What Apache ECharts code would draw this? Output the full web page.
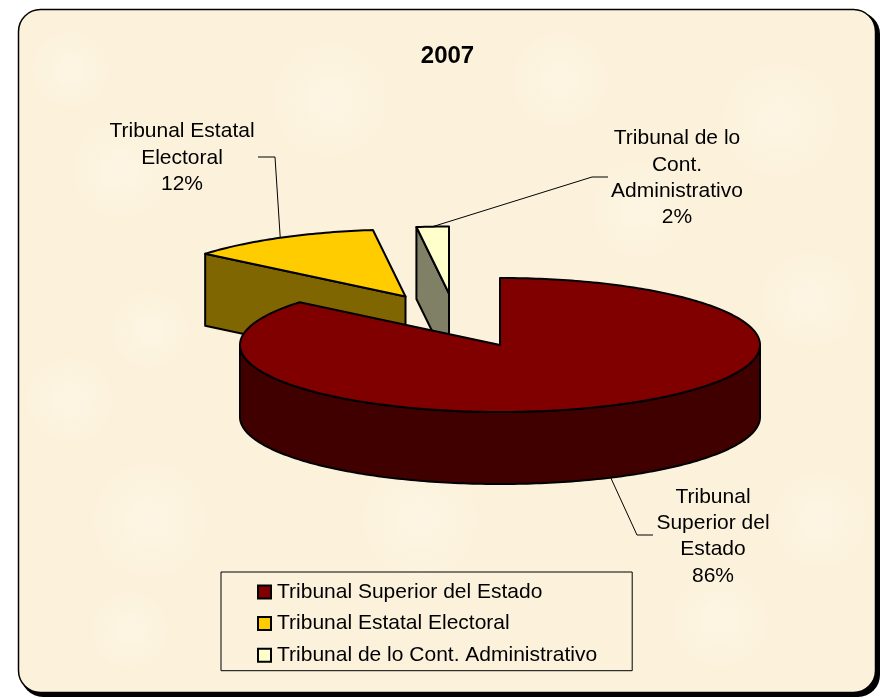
<!DOCTYPE html>
<html><head><meta charset="utf-8">
<style>html,body{margin:0;padding:0;background:#fff}#c{width:887px;height:698px}</style>
<script src="https://cdn.jsdelivr.net/npm/echarts@6/dist/echarts.min.js"></script>
</head><body><div id="c"></div>
<script>
const chartTitle = '2007';
const categories = ['Tribunal Superior del Estado','Tribunal Estatal Electoral','Tribunal de lo Cont. Administrativo'];
const values = [86, 12, 2];
const labelTexts = ['Tribunal\nSuperior del\nEstado','Tribunal Estatal\nElectoral','Tribunal de lo\nCont.\nAdministrativo'];
const topColors = ['#800000','#FFCC00','#FFFFCC'];
const sideColors = ['#400000','#806600','#808066'];

const RX = 260, RY = 67, DEPTH = 72;
const apexes = [[500,345],[405.5,296.5],[449,293.5]];
const labelCentres = [[713,536.5],[182,158],[677,178]];
const leaderElbows = [[[637,535],[653,535]],[[275,157],[258,157]],[[592,177],[608,177]]];
const blotches = [[120,170,50],[70,70,40],[330,100,60],[560,80,50],[780,120,60],[70,400,45],[150,520,60],[810,300,50],[820,520,50],[420,520,60],[130,630,40],[720,620,50],[640,210,50],[150,330,40]];
const total = values.reduce((a,b)=>a+b,0);
const rad = d => d*Math.PI/180;
function rim(c,deg,dy){return [c[0]+RX*Math.sin(rad(deg)), c[1]-RY*Math.cos(rad(deg))+(dy||0)];}
function arcPts(c,a,b,dy){const p=[],n=Math.max(2,Math.ceil(Math.abs(b-a)));for(let i=0;i<=n;i++)p.push(rim(c,a+(b-a)*i/n,dy));return p;}
const lineStyle={stroke:'#000',lineWidth:2,lineJoin:'round'};

function renderSlice(idx){
  return function(params,api){
    const v=api.value(0);
    let start=0; for(let i=0;i<idx;i++) start+=values[i];
    const a=start/total*360, b=(start+v)/total*360, c=apexes[idx];
    const children=[];
    if(idx>0){
      const s=rim(c,a);
      children.push({type:'polygon',shape:{points:[s,c,[c[0],c[1]+DEPTH],[s[0],s[1]+DEPTH]]},style:{fill:sideColors[idx],...lineStyle}});
    }
    const wa=Math.max(a,90), wb=Math.min(b,270);
    if(wb>wa){
      const pts=arcPts(c,wa,wb,0).concat(arcPts(c,wb,wa,DEPTH));
      children.push({type:'polygon',shape:{points:pts},style:{fill:sideColors[idx],...lineStyle}});
    }
    children.push({type:'polygon',shape:{points:[c].concat(arcPts(c,a,b,0))},style:{fill:topColors[idx],...lineStyle}});
    return {type:'group',children};
  };
}
function renderLabel(idx){
  return function(params,api){
    const v=api.value(0);
    let start=0; for(let i=0;i<idx;i++) start+=values[i];
    const mid=(start+v/2)/total*360, c=apexes[idx];
    const from=rim(c,mid,(mid>90&&mid<270)?DEPTH:0);
    return {type:'group',children:[
      {type:'polyline',shape:{points:[from].concat(leaderElbows[idx])},style:{stroke:'#000',lineWidth:1,fill:null}},
      {type:'text',x:labelCentres[idx][0],y:labelCentres[idx][1],style:{text:labelTexts[idx]+'\n'+Math.round(v/total*100)+'%',fill:'#000',font:'21px "Liberation Sans"',align:'center',verticalAlign:'middle',lineHeight:26.4}}
    ]};
  };
}
const zOrder=[3,1,2];
const series=[];
categories.forEach((name,i)=>{
  series.push({type:'custom',name,coordinateSystem:'none',z:zOrder[i],silent:true,animation:false,clip:false,
    itemStyle:{color:topColors[i],borderColor:'#000',borderWidth:2},
    data:[[values[i]]],renderItem:renderSlice(i)});
});
categories.forEach((name,i)=>{
  series.push({type:'custom',name:'label '+i,coordinateSystem:'none',z:5,silent:true,animation:false,
    data:[[values[i]]],renderItem:renderLabel(i)});
});
const chart=echarts.init(document.getElementById('c'),null,{renderer:'canvas'});
chart.setOption({
  animation:false,
  backgroundColor:'#fff',
  graphic:[
    {type:'rect',z:-3,shape:{x:21,y:12,width:859,height:685,r:22},style:{fill:'#000'},silent:true},
    {type:'rect',z:-2,shape:{x:18.5,y:9.5,width:857,height:683,r:22},style:{fill:'#FCF2DC',stroke:'#000',lineWidth:1.5},silent:true}
  ].concat(blotches.map(b=>({type:'circle',z:-1,silent:true,shape:{cx:b[0],cy:b[1],r:b[2]},
    style:{fill:new echarts.graphic.RadialGradient(0.5,0.5,0.5,[{offset:0,color:'rgba(255,250,240,0.35)'},{offset:1,color:'rgba(255,250,240,0)'}])}}))),
  title:{text:chartTitle,left:442.5,top:39,textAlign:'center',textStyle:{fontFamily:'Liberation Sans',fontWeight:'bold',fontSize:24,color:'#000'}},
  legend:{data:categories.map((name,i)=>({name,icon:'rect',itemStyle:{color:topColors[i],borderColor:'#000',borderWidth:2}})),
    orient:'vertical',left:221,top:572,align:'left',itemWidth:13,itemHeight:13,itemGap:10.6,
    padding:[9.5,35,5,36],borderColor:'#000',borderWidth:1,selectedMode:false,
    textStyle:{fontFamily:'Liberation Sans',fontSize:21,color:'#000',padding:[0,0,0,1]}},
  series
});
</script></body></html>
